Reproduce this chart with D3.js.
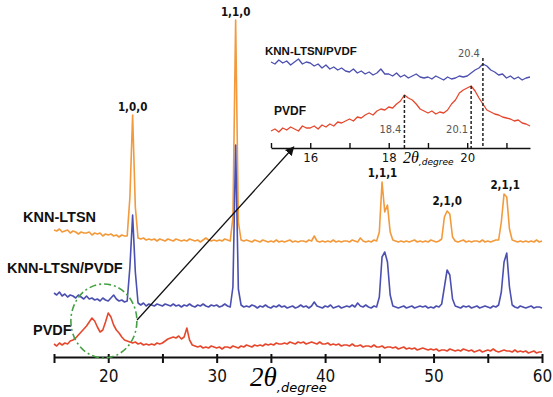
<!DOCTYPE html>
<html lang="en">
<head>
<meta charset="utf-8">
<script src="https://cdn.jsdelivr.net/npm/d3@7"></script>
<style>
  body { margin: 0; background: #fff; }
  .axis text, .num { font-family: "DejaVu Sans Condensed", "DejaVu Sans", sans-serif; font-stretch: condensed; fill: #111; }
  .axis path, .axis line { stroke: #111; }
  .name { font-family: "Liberation Sans", Arial, sans-serif; font-weight: bold; fill: #111; }
  .trace { fill: none; stroke-linejoin: round; }
</style>
</head>
<body>
<svg width="553" height="397"></svg>
<script>

// main scan, 2theta from 15 to 60 in 0.25 steps (stacked, a.u.)
var twoTheta = d3.range(181).map(function (i) { return 15 + i * 0.25; });

var knnLtsn = [
  127,126,128,125, 126,127,124,126, 125,123,125,124, 124,125,122,124, 123,124,121,123,
  122,123,121,122, 120,122,121,121, 160,242,150,119, 118,119,117,118, 117,118,116,118,
  117,116,118,117, 116,118,117,116, 117,116,118,117, 116,117,115,117, 119,117,116,117,
  116,117,116,118, 117,116,140,337, 135,117,116,117, 116,115,117,116, 115,117,116,115,
  116,115,117,115, 116,115,116,117, 115,116,115,116, 116,115,117,116, 121,116,115,116,
  115,116,115,117, 115,116,115,116, 116,115,117,116, 115,119,116,115, 116,115,117,116,
  125,175,145,152, 125,117,116,115, 116,115,116,115, 116,117,115,116, 115,116,115,117,
  116,115,116,118, 140,146,143,120, 116,115,116,117, 115,116,115,116, 116,115,117,115,
  116,115,116,117, 117,135,163,160, 128,117,116,115, 116,115,116,115, 116,115,117,115,
  116];

var knnLtsnPvdf = [
  64,62,65,61, 63,60,62,61, 59,62,60,58, 61,58,59,57, 58,56,59,57,
  56,59,62,58, 56,57,55,56, 90,142,85,54, 52,54,51,53, 52,51,53,52,
  51,53,52,51, 53,51,52,50, 52,51,53,51, 50,52,51,53, 51,50,52,51,
  52,50,51,53, 51,50,70,212, 68,52,50,51, 50,52,51,49, 51,50,52,50,
  49,51,50,52, 50,51,49,50, 51,49,50,52, 50,51,49,51, 55,51,50,49,
  51,50,52,49, 50,51,49,50, 51,50,52,50, 54,51,50,52, 50,49,51,50,
  60,100,105,95, 62,51,50,49, 50,51,49,50, 51,49,50,51, 50,51,49,50,
  49,51,50,53, 70,87,82,58, 51,50,49,51, 50,51,49,50, 51,49,50,51,
  50,49,51,50, 52,65,95,104, 70,52,50,49, 51,50,49,50, 51,49,50,50,
  49];

var pvdf = [
  13,11,14,12, 14,13,16,17, 19,22,25,28, 31,35,39,36, 30,25,27,35,
  44,40,32,27, 24,20,17,16, 15,14,15,13, 14,12,13,12, 13,12,14,13,
  14,16,18,19, 20,19,21,18, 20,29,17,12, 11,10,11,9, 10,9,11,10,
  9,10,8,10, 10,9,11,10, 9,11,10,12, 11,10,12,11, 12,11,13,12,
  13,12,14,13, 13,14,13,15, 14,13,15,14, 15,13,14,15, 14,13,15,13,
  13,14,12,13, 12,13,11,12, 12,11,13,11, 11,12,10,11, 11,10,12,10,
  10,11,9,10, 10,9,10,8, 9,10,8,9, 8,9,7,8, 9,8,7,8,
  7,8,6,7, 7,6,8,7, 6,7,6,8, 7,6,7,5, 6,7,5,6,
  7,6,8,6, 5,6,7,6, 6,5,7,5, 6,5,6,4, 5,6,4,5,
  5];

var seriesNames = ["KNN-LTSN", "KNN-LTSN/PVDF", "PVDF"];
var seriesColors = ["#f29a3c", "#4b4fb0", "#e6482e"];
var peakLabels = ["1,0,0", "1,1,0", "1,1,1", "2,1,0", "2,1,1"];
var peakPos = [22.25, 31.75, 45.3, 51.25, 56.6];
var peakTop = [242, 337, 176, 148, 164];
var mainTicks = [15, 20, 25, 30, 35, 40, 45, 50, 55, 60];

// inset scan, 15 to 21.6 in 0.1 steps
var insetTheta = d3.range(67).map(function (i) { return 15 + i * 0.1; });
var insetComposite = [
  86,84,88,85,87,83,86,89,84,86,
  85,82,84,80,83,79,81,78,80,77,
  76,79,75,77,74,76,73,75,79,74,
  74,72,75,71,73,70,72,74,71,70,
  71,69,72,70,68,71,69,70,72,71,
  72,75,78,80,84,82,78,76,73,74,
  70,72,69,71,68,70,71];
var insetPvdf = [
  17,19,16,20,18,21,19,17,22,20,
  20,22,19,23,21,24,22,26,25,27,
  29,27,31,30,33,35,33,37,39,38,
  41,40,44,47,53,50,48,44,39,37,
  35,37,34,36,35,38,44,48,55,58,
  60,62,57,50,44,38,36,34,33,31,
  30,29,27,28,25,24,22];
var insetMarks = [18.4, 20.1, 20.4];
var insetMarkTop = [53, 62, 90];
var insetTicks = [15, 16, 17, 18, 19, 20, 21];

var svg = d3.select("svg");

var x = d3.scaleLinear().domain([15, 60]).range([54, 542]);
var y = d3.scaleLinear().domain([0, 345]).range([357, 12]);

var xi = d3.scaleLinear().domain([15, 21.6]).range([271, 530]);
var yi = d3.scaleLinear().domain([0, 100]).range([148, 48]);

var line = d3.line()
  .x(function (d) { return x(d[0]); })
  .y(function (d) { return y(d[1]); });

var lineInset = d3.line()
  .x(function (d) { return xi(d[0]); })
  .y(function (d) { return yi(d[1]); });

[knnLtsn, knnLtsnPvdf, pvdf].forEach(function (s, k) {
  svg.append("path")
    .attr("class", "trace")
    .attr("d", line(d3.zip(twoTheta, s)))
    .attr("stroke", seriesColors[k])
    .attr("stroke-width", 1.6);
});

// main axis
var xAxis = d3.axisBottom(x)
  .tickValues(mainTicks)
  .tickSizeInner(6)
  .tickSizeOuter(0)
  .tickPadding(7)
  .tickFormat(function (d) { return d % 10 === 0 ? d : ""; });

var gx = svg.append("g")
  .attr("class", "axis")
  .attr("transform", "translate(0,357)")
  .call(xAxis);
gx.select(".domain").attr("stroke-width", 2);
gx.selectAll(".tick line").attr("y1", -3).attr("stroke-width", 2);
gx.selectAll(".tick text").style("font-size", "17px");

var title = svg.append("text").attr("x", 250).attr("y", 386);
title.append("tspan")
  .style("font-family", "'Liberation Serif', serif")
  .style("font-style", "italic")
  .style("font-size", "27px")
  .text("2θ");
title.append("tspan")
  .attr("dy", 6)
  .style("font-family", "'DejaVu Sans', sans-serif")
  .style("font-style", "italic")
  .style("font-size", "13px")
  .text(",degree");

// series names on the left
var nameY = [222, 273, 335];
var nameX = [23, 7, 33];
svg.selectAll("text.name.main")
  .data(seriesNames)
  .enter().append("text")
  .attr("class", "name main")
  .attr("x", function (d, i) { return nameX[i]; })
  .attr("y", function (d, i) { return nameY[i]; })
  .style("font-size", "14.5px")
  .text(function (d) { return d; });

// peak labels
svg.selectAll("text.peak")
  .data(peakLabels)
  .enter().append("text")
  .attr("class", "num peak")
  .attr("x", function (d, i) { return x(peakPos[i]); })
  .attr("y", function (d, i) { return y(peakTop[i]) - 4; })
  .attr("text-anchor", "middle")
  .style("font-size", "11.5px")
  .style("font-weight", "bold")
  .text(function (d) { return d; });

// green dash-dot region
svg.append("ellipse")
  .attr("cx", x(19.6))
  .attr("cy", y(36))
  .attr("rx", 33)
  .attr("ry", 37)
  .attr("fill", "none")
  .attr("stroke", "#45a045")
  .attr("stroke-width", 1.6)
  .attr("stroke-dasharray", "7,3,2,3");

// inset
svg.append("path")
  .attr("class", "trace")
  .attr("d", lineInset(d3.zip(insetTheta, insetComposite)))
  .attr("stroke", seriesColors[1])
  .attr("stroke-width", 1.3);
svg.append("path")
  .attr("class", "trace")
  .attr("d", lineInset(d3.zip(insetTheta, insetPvdf)))
  .attr("stroke", seriesColors[2])
  .attr("stroke-width", 1.3);

svg.selectAll("line.mark")
  .data(insetMarks)
  .enter().append("line")
  .attr("class", "mark")
  .attr("x1", function (d) { return xi(d); })
  .attr("x2", function (d) { return xi(d); })
  .attr("y1", function (d, i) { return yi(insetMarkTop[i]); })
  .attr("y2", yi(0))
  .attr("stroke", "#222")
  .attr("stroke-width", 1.5)
  .attr("stroke-dasharray", "3,2");

var markLabelY = [15, 15, 91];
svg.selectAll("text.marklbl")
  .data(insetMarks)
  .enter().append("text")
  .attr("class", "num marklbl")
  .attr("x", function (d) { return xi(d) - 3; })
  .attr("y", function (d, i) { return yi(markLabelY[i]); })
  .attr("text-anchor", "end")
  .style("font-size", "11px")
  .style("fill", "#555")
  .text(function (d) { return d; });

var xiAxis = d3.axisBottom(xi)
  .tickValues(insetTicks)
  .tickSizeInner(-5)
  .tickSizeOuter(0)
  .tickPadding(5)
  .tickFormat(function (d) { return d % 2 === 0 ? d : ""; });

var gi = svg.append("g")
  .attr("class", "axis")
  .attr("transform", "translate(0," + yi(0) + ")")
  .call(xiAxis);
gi.select(".domain").attr("stroke-width", 1.6);
gi.selectAll(".tick line").attr("stroke-width", 1.4);
gi.selectAll(".tick text").style("font-size", "13px");

var ititle = svg.append("text").attr("x", 403).attr("y", 163);
ititle.append("tspan")
  .style("font-family", "'Liberation Serif', serif")
  .style("font-style", "italic")
  .style("font-size", "16px")
  .text("2θ");
ititle.append("tspan")
  .attr("dy", 2)
  .style("font-family", "'DejaVu Sans', sans-serif")
  .style("font-style", "italic")
  .style("font-size", "9px")
  .text(",degree");

svg.append("text")
  .attr("class", "name")
  .attr("x", 265)
  .attr("y", 55)
  .style("font-size", "11.5px")
  .text(seriesNames[1]);
svg.append("text")
  .attr("class", "name")
  .attr("x", 274)
  .attr("y", 115)
  .style("font-size", "12px")
  .text(seriesNames[2]);

// arrow from the circled region to the inset
svg.append("defs").append("marker")
  .attr("id", "head")
  .attr("viewBox", "0 0 10 10")
  .attr("refX", 9)
  .attr("refY", 5)
  .attr("markerWidth", 7)
  .attr("markerHeight", 7)
  .attr("orient", "auto")
  .append("path")
  .attr("d", "M0,0L10,5L0,10z")
  .attr("fill", "#111");

svg.append("line")
  .attr("x1", x(22.66))
  .attr("y1", y(37))
  .attr("x2", xi(15.58))
  .attr("y2", yi(1))
  .attr("stroke", "#111")
  .attr("stroke-width", 1.3)
  .attr("marker-end", "url(#head)");

</script>
</body>
</html>
